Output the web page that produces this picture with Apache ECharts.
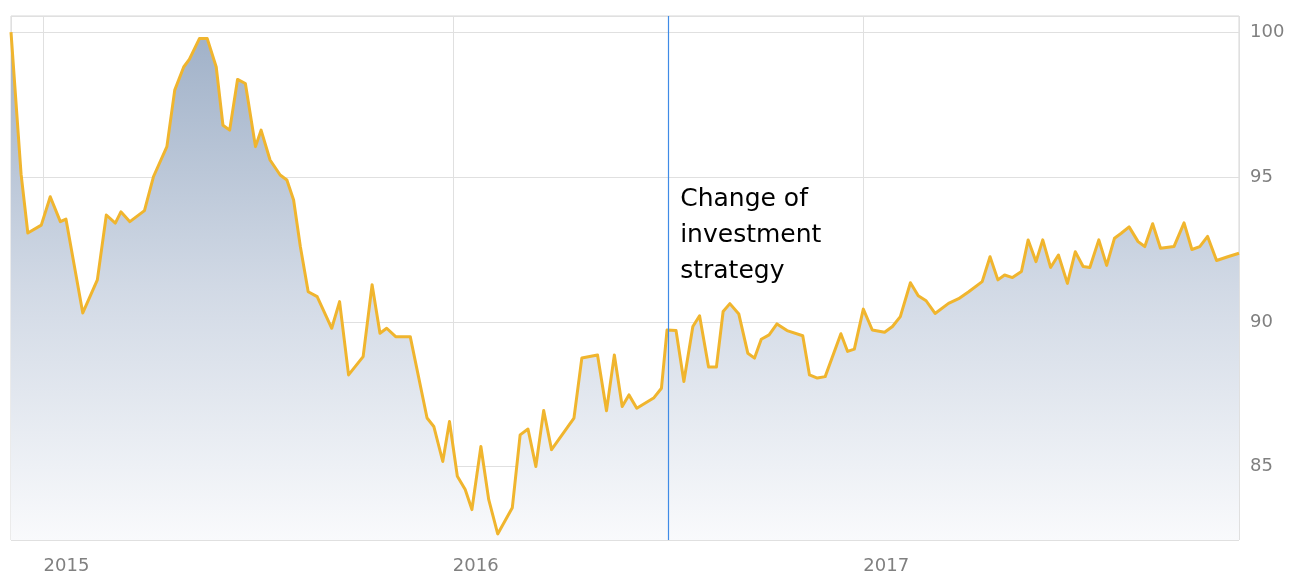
<!DOCTYPE html>
<html>
<head>
<meta charset="utf-8">
<script src="https://cdn.jsdelivr.net/npm/echarts@6/dist/echarts.min.js"></script>
<style>
html,body{margin:0;padding:0;background:#fff;}
#chart{width:1289px;height:575px;}
</style>
</head>
<body>
<div id="chart"></div>
<script>
// Dates of each plotted point (weekly-ish)
var dates = [
'2014-12-03','2014-12-12','2014-12-18','2014-12-30','2015-01-07','2015-01-16','2015-01-21','2015-02-05','2015-02-18','2015-02-26',
'2015-03-06','2015-03-11','2015-03-19','2015-04-01','2015-04-09','2015-04-21','2015-04-28','2015-05-06','2015-05-11','2015-05-20',
'2015-05-27','2015-06-04','2015-06-10','2015-06-16','2015-06-23','2015-06-30','2015-07-09','2015-07-14','2015-07-22','2015-07-31',
'2015-08-06','2015-08-12','2015-08-18','2015-08-25','2015-09-02','2015-09-15','2015-09-22','2015-09-30','2015-10-13','2015-10-21',
'2015-10-28','2015-11-03','2015-11-11','2015-11-24','2015-12-09','2015-12-15','2015-12-23','2015-12-29','2016-01-05','2016-01-12',
'2016-01-18','2016-01-26','2016-02-02','2016-02-10','2016-02-23','2016-03-01','2016-03-08','2016-03-15','2016-03-22','2016-03-29',
'2016-04-18','2016-04-25','2016-05-09','2016-05-17','2016-05-24','2016-05-31','2016-06-06','2016-06-13','2016-06-28','2016-07-05',
'2016-07-10','2016-07-18','2016-07-25','2016-08-02','2016-08-08','2016-08-16','2016-08-23','2016-08-29','2016-09-04','2016-09-12',
'2016-09-20','2016-09-26','2016-10-02','2016-10-09','2016-10-16','2016-10-25','2016-11-08','2016-11-14','2016-11-21','2016-11-28',
'2016-12-12','2016-12-18','2016-12-24','2017-01-01','2017-01-09','2017-01-20','2017-01-27','2017-02-03','2017-02-12','2017-02-19',
'2017-02-26','2017-03-06','2017-03-18','2017-03-27','2017-04-05','2017-04-17','2017-04-24','2017-05-01','2017-05-07','2017-05-14',
'2017-05-22','2017-05-28','2017-06-04','2017-06-10','2017-06-17','2017-06-24','2017-07-02','2017-07-09','2017-07-16','2017-07-22',
'2017-07-30','2017-08-06','2017-08-13','2017-08-19','2017-08-26','2017-09-03','2017-09-09','2017-09-16','2017-09-23','2017-10-05',
'2017-10-14','2017-10-21','2017-10-28','2017-11-04','2017-11-12','2017-11-22','2017-12-02'
];
// Index values
var values = [
100.0,95.1,93.07,93.34,94.32,93.46,93.55,90.31,91.45,93.69,
93.41,93.80,93.46,93.84,95.01,96.05,98.0,98.8,99.06,99.78,
99.78,98.8,96.79,96.62,98.37,98.23,96.05,96.62,95.59,95.07,
94.9,94.21,92.6,91.04,90.87,89.78,90.70,88.17,88.80,91.28,
89.61,89.78,89.49,89.49,86.68,86.39,85.18,86.56,84.67,84.21,
83.52,85.70,83.86,82.68,83.58,86.10,86.30,85.01,86.94,85.59,
86.68,88.75,88.86,86.93,88.86,87.08,87.48,87.02,87.37,87.71,
89.72,89.70,87.94,89.84,90.21,88.44,88.44,90.36,90.63,90.27,
88.92,88.75,89.40,89.55,89.93,89.70,89.52,88.17,88.06,88.11,
89.59,88.98,89.06,90.44,89.72,89.64,89.84,90.18,91.35,90.90,
90.73,90.29,90.64,90.80,91.04,91.39,92.25,91.45,91.62,91.53,
91.74,92.83,92.08,92.83,91.88,92.31,91.33,92.42,91.91,91.88,
92.83,91.95,92.89,93.06,93.28,92.77,92.60,93.39,92.54,92.60,
93.42,92.50,92.60,92.95,92.12,92.25,92.37
];
var yTicks = [85, 90, 95, 100];
var strategyDate = '2016-07-11';
var strategyText = ['Change of', 'investment', 'strategy'];

var seriesData = dates.map(function (d, i) { return [d, values[i]]; });

var chart = echarts.init(document.getElementById('chart'), null, {renderer: 'canvas'});
var markLineStyle = {color: '#3f8be6', width: 1.2, type: 'solid', opacity: 1};
var option = {
  animation: false,
  backgroundColor: '#ffffff',
  grid: {
    left: 11, right: 50, top: 16, bottom: 35,
    outerBoundsMode: 'none',
    containLabel: false,
    show: true, borderColor: '#d6d6d6', borderWidth: 1, backgroundColor: 'transparent'
  },
  xAxis: {
    type: 'time',
    min: 'dataMin', max: 'dataMax',
    minInterval: 365 * 24 * 3600 * 1000,
    axisLine: {show: false},
    axisTick: {show: false},
    splitLine: {show: true, lineStyle: {color: '#e0e0e0', width: 1}},
    axisLabel: {
      formatter: '{yyyy}',
      align: 'left',
      margin: 17,
      color: '#808080',
      fontFamily: 'DejaVu Sans',
      fontSize: 18
    }
  },
  yAxis: {
    type: 'value',
    position: 'right',
    min: 82.47, max: 100.56,
    splitNumber: 4,
    minInterval: 5, maxInterval: 5,
    axisLine: {show: false},
    axisTick: {show: false},
    splitLine: {show: true, lineStyle: {color: '#e0e0e0', width: 1}},
    axisLabel: {
      showMinLabel: false, showMaxLabel: false,
      margin: 11,
      color: '#808080',
      fontFamily: 'DejaVu Sans',
      fontSize: 18,
      formatter: function (v) { return yTicks.indexOf(v) >= 0 ? String(v) : ''; }
    }
  },
  series: [{
    type: 'line',
    data: seriesData,
    showSymbol: false,
    symbol: 'none',
    lineStyle: {color: '#f0b52e', width: 3, join: 'round'},
    areaStyle: {
      opacity: 1,
      color: new echarts.graphic.LinearGradient(0, 0, 0, 1, [
        {offset: 0, color: '#a0b1c8'},
        {offset: 0.5, color: '#d1d9e5'},
        {offset: 1, color: '#f9fafc'}
      ])
    },
    markLine: {
      silent: true,
      symbol: 'none',
      label: {show: false},
      lineStyle: markLineStyle,
      emphasis: {disabled: true},
      data: [{xAxis: strategyDate, lineStyle: markLineStyle}]
    },
    z: 2
  }]
};
chart.setOption(option);

var px = chart.convertToPixel({xAxisIndex: 0}, strategyDate);
var py = chart.convertToPixel({yAxisIndex: 0}, 94.85);
chart.setOption({
  graphic: [{
    type: 'text',
    left: px + 12,
    top: py,
    z: 10,
    style: {
      text: strategyText.join('\n'),
      font: '25px "DejaVu Sans"',
      lineHeight: 36,
      fill: '#000000'
    }
  }]
});
</script>
</body>
</html>
